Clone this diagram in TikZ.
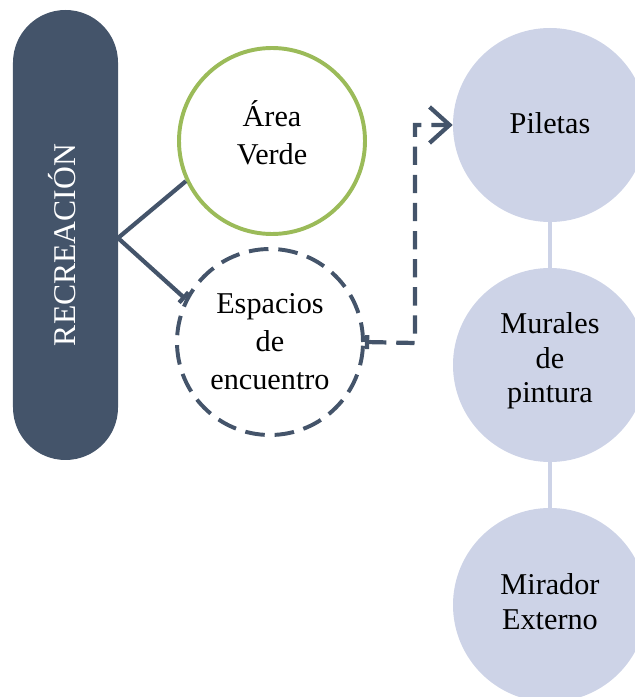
\documentclass[tikz,border=0pt]{standalone}
\usepackage{fontspec}
\setmainfont{Liberation Serif}
\usetikzlibrary{arrows.meta}
\definecolor{slate}{HTML}{44546A}
\definecolor{leaf}{HTML}{9BBB59}
\definecolor{mist}{RGB}{205,211,231}

\begin{document}
\begin{tikzpicture}[font=\fontsize{21.5}{27}\selectfont,
  pill/.style={fill=slate,rounded corners=1.3125cm,minimum width=11.25cm,
    minimum height=2.625cm,rotate=90,inner sep=0pt},
  ring/.style={circle,line width=2.8pt,minimum size=4.65cm,inner sep=0pt},
  disc/.style={circle,fill=mist,minimum size=4.85cm,inner sep=0pt},
  disclabel/.style={align=center,font=\fontsize{21.5}{24.5}\selectfont},
  link/.style={slate,line width=3pt},
  dashlink/.style={link,dash pattern=on 13pt off 7pt}]
  \useasboundingbox (0,0) rectangle (15.875,17.425);
  % main block
  \node[pill] (rec) at (1.6375,11.55) {};
  \node[rotate=90,text=white,font=\fontsize{22.5}{27}\selectfont] (reclabel)
    at (1.55,11.3) {RECREACIÓN};
  \coordinate (hub) at (2.95,11.475);
  % left circles
  \node[ring,draw=leaf] (av) at (6.8,13.9) {};
  \node[align=center] (avlabel) at ([yshift=0.2cm]av.center) {Área\\Verde};
  \node[ring,draw=slate,dash pattern=on 14pt off 7pt] (ee) at (6.75,8.875) {};
  \node[align=center] (eelabel) at (ee.center) {Espacios\\de\\encuentro};
  % right column
  \node[disc] (pl) at (13.75,14.3) {};
  \node[disc] (mu) at (13.75,8.3) {};
  \node[disc] (mi) at (13.75,2.3) {};
  \node[disclabel] (pllabel) at ([yshift=0.05cm]pl.center) {Piletas};
  \node[disclabel] (mulabel) at ([yshift=0.1cm]mu.center) {Murales\\de\\pintura};
  \node[disclabel] (milabel) at ([yshift=0.08cm]mi.center) {Mirador\\Externo};
  \draw[mist,line width=3.5pt] (pl) -- (mu);
  \draw[mist,line width=3.5pt] (mu) -- (mi);
  % connectors
  \draw[link,-{Bar[width=0.35cm]}] (av.205) -- (hub) -- (ee.153);
  \coordinate (bend) at (10.375,8.85);
  \draw[dashlink,{Bar[width=0.35cm]}-{Straight Barb[length=0.5cm,width=0.9cm]}]
    (ee.east) -- (bend) |- (pl.west);
\end{tikzpicture}
\end{document}
